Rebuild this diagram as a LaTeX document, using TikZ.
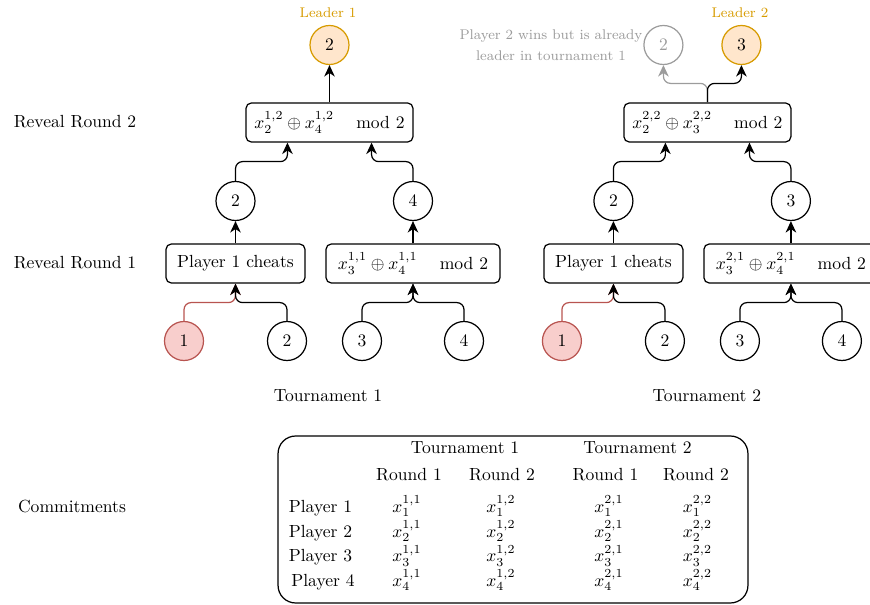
\documentclass[tikz,border=0pt]{standalone}
\usepackage{amsmath}
\usetikzlibrary{arrows.meta,calc}

\definecolor{leaderfill}{HTML}{FFE6CC}
\definecolor{leaderdraw}{HTML}{D79B00}
\definecolor{cheatfill}{HTML}{F8CECC}
\definecolor{cheatdraw}{HTML}{B85450}
\definecolor{greyout}{HTML}{9C9C9C}

\tikzset{
    player/.style={circle, draw, line width=0.7pt, minimum size=0.78cm, inner sep=0pt},
    revealbox/.style={rectangle, draw, rounded corners=3pt, line width=0.7pt, minimum height=0.78cm, inner sep=2pt},
    edge/.style={line width=0.7pt, rounded corners=4pt, -{Stealth[length=6.5pt, width=6pt, inset=2pt]}},
    small/.style={font=\footnotesize}
}

\begin{document}
\begin{tikzpicture}[x=0.02cm, y=-0.02cm]
    \useasboundingbox (0,0) rectangle (870,605);

    % row labels
    \node (rr2) at (75,122) {Reveal Round 2};
    \node (rr1) at (75,263) {Reveal Round 1};
    \node (com) at (72,506) {Commitments};

    % Tournament 1
    \node[player, fill=cheatfill, draw=cheatdraw] (p11) at (184,341) {1};
    \node[player] (p12) at (287,341) {2};
    \node[player] (p13) at (362,341) {3};
    \node[player] (p14) at (464,341) {4};

    \node[revealbox, minimum width=2.78cm] (a1) at (235.5,263.5) {Player 1 cheats};
    \node[revealbox, minimum width=3.48cm] (b1) at (413,263.5) {$x_3^{1,1} \oplus x_4^{1,1} \hspace{6pt} \mod 2$};

    \node[player] (w11) at (235.5,201) {2};
    \node[player] (w12) at (413,201) {4};

    \node[revealbox, minimum width=3.34cm] (c1) at (329.5,122.5) {$x_2^{1,2} \oplus x_4^{1,2} \hspace{6pt} \mod 2$};
    \node[player, fill=leaderfill, draw=leaderdraw] (l1) at (329.5,45) {2};
    \node[small, text=leaderdraw] (lt1) at (328,13) {Leader 1};

    \coordinate (c1l) at ($(c1.south west)!0.25!(c1.south east)$);
    \coordinate (c1r) at ($(c1.south west)!0.75!(c1.south east)$);

    % round 1
    \draw[edge, cheatdraw] (p11.north) |- ($(a1.south)+(0,19)$) -- (a1.south);
    \draw[edge] (p12.north) |- ($(a1.south)+(0,19)$) -- (a1.south);
    \draw[edge] (p13.north) |- ($(b1.south)+(0,19)$) -- (b1.south);
    \draw[edge] (p14.north) |- ($(b1.south)+(0,19)$) -- (b1.south);
    \draw[edge] (a1) -- (w11);
    \draw[edge] (b1) -- (w12);

    % round 2
    \draw[edge] (w11.north) |- ($(c1l)+(0,19)$) -- (c1l);
    \draw[edge] (w12.north) |- ($(c1r)+(0,19)$) -- (c1r);
    \draw[edge] (c1) -- (l1);

    \node (tn1) at (328,396) {Tournament 1};

    % Tournament 2
    \begin{scope}[xshift=7.56cm]
        \node[player, fill=cheatfill, draw=cheatdraw] (p21) at (184,341) {1};
        \node[player] (p22) at (287,341) {2};
        \node[player] (p23) at (362,341) {3};
        \node[player] (p24) at (464,341) {4};

        \node[revealbox, minimum width=2.78cm] (a2) at (235.5,263.5) {Player 1 cheats};
        \node[revealbox, minimum width=3.48cm] (b2) at (413,263.5) {$x_3^{2,1} \oplus x_4^{2,1} \hspace{6pt} \mod 2$};

        \node[player] (w21) at (235.5,201) {2};
        \node[player] (w22) at (413,201) {3};

        \node[revealbox, minimum width=3.34cm] (c2) at (329.5,122.5) {$x_2^{2,2} \oplus x_3^{2,2} \hspace{6pt} \mod 2$};
        \node[player, fill=leaderfill, draw=leaderdraw] (l2) at (363.5,45) {3};
        \node[small, text=leaderdraw] (lt2) at (362,13) {Leader 2};
        \node[player, draw=greyout, text=greyout] (g2) at (285.5,45) {2};
        \node[small, text=greyout, align=center] (gt2) at (173,45) {Player 2 wins but is already\\[2.5pt] leader in tournament 1};

        \coordinate (c2l) at ($(c2.south west)!0.25!(c2.south east)$);
        \coordinate (c2r) at ($(c2.south west)!0.75!(c2.south east)$);

        % round 1
        \draw[edge, cheatdraw] (p21.north) |- ($(a2.south)+(0,19)$) -- (a2.south);
        \draw[edge] (p22.north) |- ($(a2.south)+(0,19)$) -- (a2.south);
        \draw[edge] (p23.north) |- ($(b2.south)+(0,19)$) -- (b2.south);
        \draw[edge] (p24.north) |- ($(b2.south)+(0,19)$) -- (b2.south);
        \draw[edge] (a2) -- (w21);
        \draw[edge] (b2) -- (w22);

        % round 2
        \draw[edge] (w21.north) |- ($(c2l)+(0,19)$) -- (c2l);
        \draw[edge] (w22.north) |- ($(c2r)+(0,19)$) -- (c2r);
        \draw[edge, greyout] (c2.north) -- ++(0,-19) -| (g2.south);
        \draw[edge] (c2.north) -- ++(0,-19) -| (l2.south);

        \node (tn2) at (329,396) {Tournament 2};
    \end{scope}

    % commitments
    \node[draw, rounded corners=10pt, line width=0.7pt, minimum width=9.4cm, minimum height=3.34cm] (tab) at (513,519.5) {};
    \node[anchor=base] (th1) at (465,453) {Tournament 1};
    \node[anchor=base] (th2) at (637.5,453) {Tournament 2};
    \foreach \x/\r [count=\i] in {409/1, 502/2, 605.5/1, 696/2}
        \node[anchor=base] (rd\i) at (\x,480) {Round \r};
    \foreach \p/\y/\px in {1/512/320.5, 2/537/320.5, 3/561.5/320.5, 4/586/323} {
        \node[anchor=base] (pl\p) at (\px,\y) {Player \p};
        \node[anchor=base] (e\p a) at (407,\y) {$x_\p^{1,1}$};
        \node[anchor=base] (e\p b) at (501,\y) {$x_\p^{1,2}$};
        \node[anchor=base] (e\p c) at (609,\y) {$x_\p^{2,1}$};
        \node[anchor=base] (e\p d) at (697.5,\y) {$x_\p^{2,2}$};
    }
\end{tikzpicture}
\end{document}
